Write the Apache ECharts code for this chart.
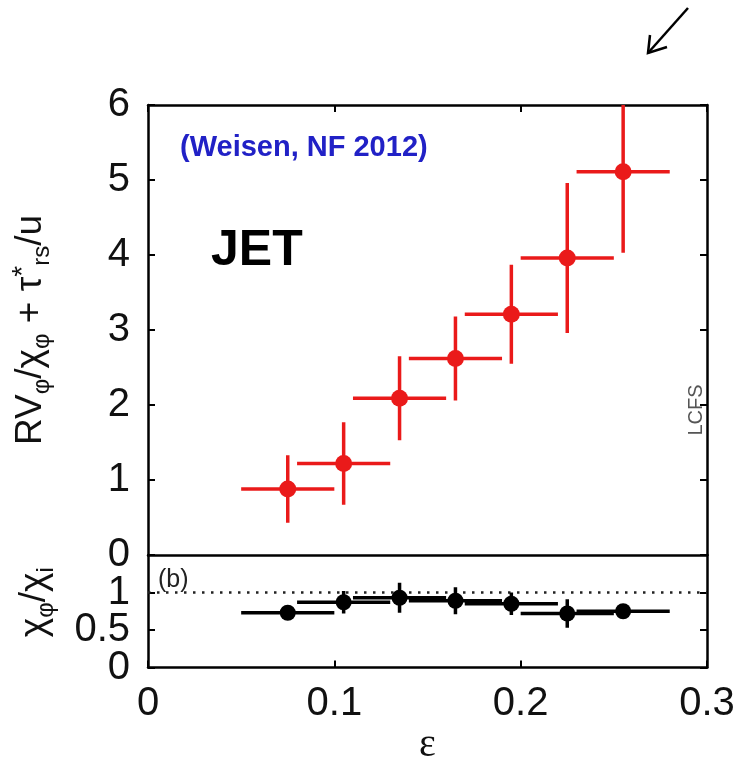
<!DOCTYPE html>
<html><head><meta charset="utf-8">
<script src="https://cdn.jsdelivr.net/npm/echarts@6/dist/echarts.min.js"></script>
<style>html,body{margin:0;padding:0;background:#fff}#c{width:737px;height:758px}</style>
</head><body><div id="c"></div>
<script>
// ---- data ----
const eps      = [0.075, 0.105, 0.135, 0.165, 0.195, 0.225, 0.255];
const epsErr   = [0.025, 0.025, 0.025, 0.025, 0.025, 0.025, 0.025];
const ratio    = [0.88, 1.22, 2.09, 2.62, 3.21, 3.96, 5.11];
const ratioErr = [0.45, 0.55, 0.56, 0.56, 0.66, 1.00, 1.08];
const chiRatio = [0.73, 0.87, 0.93, 0.89, 0.85, 0.72, 0.75];
const chiErr   = [0.04, 0.15, 0.20, 0.18, 0.15, 0.19, 0.08];
const refLevel = 1;
const xTicks   = [0, 0.1, 0.2, 0.3];
const yTicksTop = [0, 1, 2, 3, 4, 5, 6];
const yTicksBotA = [0, 1];
const yTicksBotB = [0.5];

const FONT = 'Liberation Sans, Arial, Helvetica, sans-serif';
const lineStyle = {color:'#000', width:2.5};
const tickIn = {show:true, inside:true, length:7, lineStyle:{color:'#000', width:2}};
const yMaxTop = yTicksTop[yTicksTop.length-1];
const yMaxBot = 1.5;

function errRender(color, lw, ymax){
  return function(params, api){
    const x=api.value(0), y=api.value(1), ex=api.value(2), ey=api.value(3);
    const l=api.coord([x-ex,y]), r=api.coord([x+ex,y]);
    const t=api.coord([x,Math.min(y+ey,ymax)]), b=api.coord([x,Math.max(y-ey,0)]);
    return {type:'group', children:[
      {type:'line', shape:{x1:l[0],y1:l[1],x2:r[0],y2:r[1]}, style:{stroke:color, lineWidth:lw}},
      {type:'line', shape:{x1:t[0],y1:t[1],x2:b[0],y2:b[1]}, style:{stroke:color, lineWidth:lw}}
    ]};
  };
}

const red = '#ea1a1a';
const chart = echarts.init(document.getElementById('c'), null, {renderer:'canvas'});
const xBase = {type:'value', min:xTicks[0], max:xTicks[xTicks.length-1], interval:0.1, splitLine:{show:false},
  axisLine:{show:true, onZero:false, lineStyle}};
const botLabel = {fontSize:40, fontFamily:FONT, color:'#111', margin:18, hideOverlap:false, interval:0, formatter:v=>String(v)};
chart.setOption({
  animation:false,
  backgroundColor:'#fff',
  grid:[
    {left:148, right:30, top:105, height:450, outerBoundsMode:'none', containLabel:false},
    {left:148, right:30, top:555, height:112.5, outerBoundsMode:'none', containLabel:false}
  ],
  xAxis:[
    Object.assign({}, xBase, {gridIndex:0, position:'bottom', axisTick:{show:false}, axisLabel:{show:false}}),
    Object.assign({}, xBase, {gridIndex:0, position:'top', axisTick:tickIn, axisLabel:{show:false}}),
    Object.assign({}, xBase, {gridIndex:1, position:'bottom', axisTick:tickIn,
      axisLabel:{show:true, fontSize:40, fontFamily:FONT, color:'#111', margin:16, showMinLabel:true, showMaxLabel:true,
        hideOverlap:false, formatter:v=>String(Math.round(v*10)/10)},
      name:'ε', nameLocation:'middle', nameGap:58,
      nameTextStyle:{fontSize:40, fontFamily:'Liberation Serif, DejaVu Serif, serif', color:'#111'}})
  ],
  yAxis:[
    {gridIndex:0, type:'value', position:'left', min:0, max:yMaxTop, interval:1, splitLine:{show:false},
      axisLine:{show:true, onZero:false, lineStyle}, axisTick:tickIn,
      axisLabel:{fontSize:40, lineHeight:32, fontFamily:FONT, color:'#111', margin:18, showMinLabel:true, showMaxLabel:true, hideOverlap:false},
      name:'RV{s|φ}/χ{s|φ} + τ{p|*}{s|rs}/u', nameLocation:'middle', nameGap:94,
      nameTextStyle:{fontSize:37, fontFamily:FONT, color:'#111',
        rich:{s:{fontSize:24, fontFamily:FONT, color:'#111', padding:[22,0,0,0]},
              p:{fontSize:28, fontFamily:FONT, color:'#111', padding:[0,0,16,0]}}}},
    {gridIndex:0, type:'value', position:'right', min:0, max:yMaxTop, interval:1, splitLine:{show:false},
      axisLine:{show:true, onZero:false, lineStyle}, axisTick:tickIn, axisLabel:{show:false}},
    {gridIndex:1, type:'value', position:'left', min:0, max:yMaxBot, interval:0.5, splitLine:{show:false},
      axisLine:{show:true, onZero:false, lineStyle}, axisTick:tickIn,
      axisLabel:Object.assign({}, botLabel, {customValues:yTicksBotA}),
      name:'χ{s|φ}/χ{s|i}', nameLocation:'middle', nameGap:90,
      nameTextStyle:{fontSize:37, fontFamily:FONT, color:'#111', padding:[0,0,0,18],
        rich:{s:{fontSize:24, fontFamily:FONT, color:'#111', padding:[22,0,0,0]}}}},
    {gridIndex:1, type:'value', position:'right', min:0, max:yMaxBot, interval:0.5, splitLine:{show:false},
      axisLine:{show:true, onZero:false, lineStyle}, axisTick:tickIn, axisLabel:{show:false}},
    {gridIndex:1, type:'value', position:'left', offset:0, min:0, max:yMaxBot, interval:0.5, splitLine:{show:false},
      axisLine:{show:false}, axisTick:{show:false},
      axisLabel:Object.assign({}, botLabel, {customValues:yTicksBotB})}
  ],
  series:[
    {type:'custom', xAxisIndex:0, yAxisIndex:0, renderItem:errRender(red,3.5,yMaxTop), z:2,
      data:eps.map((e,i)=>[e, ratio[i], epsErr[i], ratioErr[i]])},
    {type:'scatter', xAxisIndex:0, yAxisIndex:0, symbol:'circle', symbolSize:17, z:3,
      itemStyle:{color:red, opacity:1}, data:eps.map((e,i)=>[e, ratio[i]])},
    {type:'line', xAxisIndex:2, yAxisIndex:2, symbol:'none', z:1,
      lineStyle:{color:'#222', width:2.5, type:[2.5,6.5]},
      data:[[xTicks[0],refLevel],[xTicks[xTicks.length-1],refLevel]]},
    {type:'custom', xAxisIndex:2, yAxisIndex:2, renderItem:errRender('#000',3.5,yMaxBot), z:2,
      data:eps.map((e,i)=>[e, chiRatio[i], epsErr[i], chiErr[i]])},
    {type:'scatter', xAxisIndex:2, yAxisIndex:2, symbol:'circle', symbolSize:16, z:3,
      itemStyle:{color:'#000', opacity:1}, data:eps.map((e,i)=>[e, chiRatio[i]])}
  ],
  graphic:[
    {type:'text', left:180, top:133, style:{text:'(Weisen, NF 2012)', font:'bold 29px '+FONT, fill:'#2121c6'}},
    {type:'text', left:211, top:226, style:{text:'JET', font:'bold 50px '+FONT, fill:'#000'}},
    {type:'text', x:706, y:410, rotation:Math.PI/2, style:{text:'LCFS', font:'20px '+FONT, fill:'#555', align:'center', verticalAlign:'bottom'}},
    {type:'text', left:158, top:568, style:{text:'(b)', font:'25px '+FONT, fill:'#222'}},
    {type:'polyline', shape:{points:[[688,8],[648,53]]}, style:{stroke:'#000', lineWidth:2.5}},
    {type:'polyline', shape:{points:[[650,35],[648,53],[667,47]]}, style:{stroke:'#000', lineWidth:2.5, fill:null}}
  ]
});
</script>
</body></html>
